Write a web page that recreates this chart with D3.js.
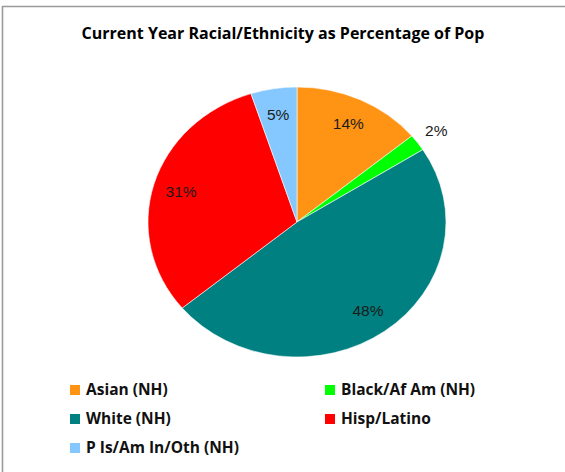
<html>
<head>
    <script src="https://d3js.org/d3.v7.min.js"></script>
    <style type="text/css">
        body { margin: 0; background: #fff; }
        text.title { font-family: "Open Sans", sans-serif; font-weight: bold; font-size: 16px; fill: #000; }
        text.legend { font-family: "Open Sans", sans-serif; font-weight: bold; font-size: 15.5px; fill: #111; }
        text.pct { font-family: "Liberation Sans", Arial, sans-serif; font-size: 15.5px; fill: #1a1a1a; }
        path.slice { stroke: #fff; stroke-width: 0.6; }
    </style>
</head>

<body>
    <svg></svg>

    <script>
        const Title = "Current Year Racial/Ethnicity as Percentage of Pop";
        const Groups = ["Asian (NH)", "Black/Af Am (NH)", "White (NH)", "Hisp/Latino", "P Is/Am In/Oth (NH)"];
        const Values = [14, 2, 48, 31, 5];
        const Colors = ["#ff9414", "#00ff00", "#008080", "#ff0000", "#85c8ff"];

        const Width = 565, Height = 472;
        const Cx = 297, Cy = 222,
            Rx = 149, Ry = 135;

        var svg = d3.select("svg")
            .attr("width", Width).attr("height", Height);

        // frame, only top and left edges show
        svg.append("path")
            .attr("d", "M2.5," + Height + " V6.5 H" + Width)
            .attr("fill", "none")
            .attr("stroke", "#9a9a9a")
            .attr("stroke-width", 1.6);

        svg.append("text").classed("title", true)
            .attr("x", 283).attr("y", 39)
            .attr("text-anchor", "middle")
            .text(Title);

        var Data = Groups.map((g, i) => ({ name:g, value:Values[i], color:Colors[i] }));

        var pie = d3.pie().sort(null).value((d) => d.value);
        var arcs = pie(Data);
        var arc = d3.arc().innerRadius(0).outerRadius(Rx);

        // Excel stretched the pie into an ellipse
        var stretched = svg.append("g")
            .attr("transform", "translate(" + Cx + " " + Cy + ") scale(1 " + (Ry/Rx) + ")");

        stretched.selectAll("path.slice")
            .data(arcs)
            .enter()
            .append("path").classed("slice", true)
                .attr("d", arc)
                .attr("fill", (d) => d.data.color);

        function labelPos(d)
        {
            let a = (d.startAngle + d.endAngle)/2;
            let r = d.data.value < 3 ? Rx*1.155 : Rx*0.81;
            return [Cx + Math.sin(a)*r, Cy - Math.cos(a)*r*Ry/Rx];
        }

        svg.selectAll("text.pct")
            .data(arcs)
            .enter()
            .append("text").classed("pct", true)
                .attr("x", (d) => labelPos(d)[0])
                .attr("y", (d) => labelPos(d)[1])
                .attr("text-anchor", "middle")
                .attr("dy", "0.36em")
                .text((d) => d.data.value + "%");

        var items = svg.selectAll("g.item")
            .data(Data)
            .enter()
            .append("g").classed("item", true)
                .attr("transform", (d, i) => "translate(" + (70 + (i%2)*255) + " " + (390 + Math.floor(i/2)*29) + ")");

        items.append("rect")
            .attr("x", 0).attr("y", -5)
            .attr("width", 10).attr("height", 10)
            .attr("fill", (d) => d.color);

        items.append("text").classed("legend", true)
            .attr("x", 16).attr("y", 0)
            .attr("dy", "0.35em")
            .text((d) => d.name);
    </script>
</body>

</html>
